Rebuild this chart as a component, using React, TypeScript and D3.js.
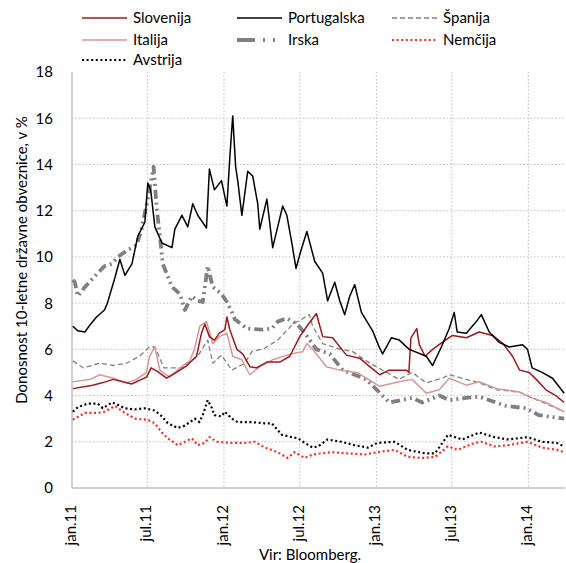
import React from "react";
import * as d3 from "d3";

type Pt = [string, number];

// 10-year government bond yields, %
const slovenija: Pt[] = [
  ["2011-01-03", 4.3], ["2011-02-20", 4.45], ["2011-03-14", 4.55], ["2011-04-10", 4.7],
  ["2011-05-24", 4.5], ["2011-06-29", 4.8], ["2011-07-10", 5.2], ["2011-07-25", 5.05],
  ["2011-08-16", 4.75], ["2011-09-09", 5.0], ["2011-10-04", 5.3], ["2011-10-27", 5.7],
  ["2011-11-08", 6.7], ["2011-11-16", 7.1], ["2011-11-27", 6.55], ["2011-12-09", 6.4],
  ["2011-12-21", 6.7], ["2012-01-03", 6.85], ["2012-01-08", 7.4], ["2012-01-15", 6.85],
  ["2012-02-01", 6.0], ["2012-02-15", 5.8], ["2012-03-03", 5.25], ["2012-03-19", 5.2],
  ["2012-04-13", 5.45], ["2012-05-14", 5.45], ["2012-06-07", 5.7], ["2012-07-01", 6.55],
  ["2012-07-18", 7.0], ["2012-08-10", 7.55], ["2012-08-25", 6.55], ["2012-09-18", 6.5],
  ["2012-10-21", 5.75], ["2012-11-23", 5.6], ["2012-12-16", 5.25], ["2013-01-09", 4.9],
  ["2013-02-01", 5.1], ["2013-03-14", 5.1], ["2013-03-20", 5.0], ["2013-03-25", 6.5],
  ["2013-04-08", 6.9], ["2013-04-14", 6.2], ["2013-04-28", 5.7], ["2013-05-16", 6.0],
  ["2013-06-08", 6.3], ["2013-07-03", 6.6], ["2013-08-05", 6.5], ["2013-09-05", 6.75],
  ["2013-10-07", 6.6], ["2013-11-01", 6.25], ["2013-11-24", 5.7], ["2013-12-11", 5.1],
  ["2014-01-03", 5.0], ["2014-01-20", 4.7], ["2014-02-12", 4.25], ["2014-03-08", 4.0],
  ["2014-03-28", 3.7],
];

const portugalska: Pt[] = [
  ["2011-01-03", 7.0], ["2011-01-15", 6.8], ["2011-02-01", 6.75], ["2011-02-15", 7.1],
  ["2011-03-01", 7.4], ["2011-03-20", 7.7], ["2011-03-27", 8.0], ["2011-04-14", 9.1],
  ["2011-04-26", 9.9], ["2011-05-08", 9.2], ["2011-05-25", 9.7], ["2011-06-08", 10.9],
  ["2011-06-25", 11.5], ["2011-07-02", 13.2], ["2011-07-09", 12.9], ["2011-07-19", 11.3],
  ["2011-08-05", 10.6], ["2011-08-29", 10.4], ["2011-09-05", 11.2], ["2011-09-22", 11.8],
  ["2011-10-06", 11.3], ["2011-10-18", 12.3], ["2011-10-30", 11.8], ["2011-11-20", 11.25],
  ["2011-11-27", 13.8], ["2011-12-09", 12.9], ["2011-12-26", 13.3], ["2012-01-08", 12.2],
  ["2012-01-15", 14.3], ["2012-01-22", 16.1], ["2012-01-29", 13.9], ["2012-02-03", 13.3],
  ["2012-02-13", 11.8], ["2012-02-27", 13.7], ["2012-03-10", 13.5], ["2012-03-22", 12.3],
  ["2012-03-27", 11.2], ["2012-04-13", 12.5], ["2012-04-27", 10.4], ["2012-05-09", 11.3],
  ["2012-05-21", 12.2], ["2012-05-31", 11.8], ["2012-06-12", 10.6], ["2012-06-22", 9.5],
  ["2012-07-01", 10.1], ["2012-07-18", 11.1], ["2012-08-06", 9.8], ["2012-08-25", 9.3],
  ["2012-09-06", 8.1], ["2012-09-23", 8.9], ["2012-10-05", 8.1], ["2012-10-17", 7.5],
  ["2012-10-29", 8.3], ["2012-11-10", 8.8], ["2012-11-26", 7.6], ["2012-12-23", 6.8],
  ["2013-01-09", 6.05], ["2013-01-16", 5.8], ["2013-02-06", 6.5], ["2013-02-25", 6.4],
  ["2013-03-21", 6.0], ["2013-05-01", 5.7], ["2013-05-16", 5.3], ["2013-06-06", 6.1],
  ["2013-06-25", 6.9], ["2013-07-07", 7.6], ["2013-07-14", 6.75], ["2013-08-05", 6.7],
  ["2013-08-29", 7.2], ["2013-09-10", 7.5], ["2013-09-29", 6.75], ["2013-10-23", 6.3],
  ["2013-11-16", 6.1], ["2013-12-18", 6.2], ["2013-12-30", 6.0], ["2014-01-10", 5.2],
  ["2014-02-03", 5.0], ["2014-02-28", 4.75], ["2014-03-15", 4.4], ["2014-03-28", 4.1],
];

const spanija: Pt[] = [
  ["2011-01-03", 5.5], ["2011-01-28", 5.2], ["2011-03-09", 5.4], ["2011-04-10", 5.3],
  ["2011-05-12", 5.4], ["2011-06-12", 5.7], ["2011-07-06", 6.1], ["2011-07-19", 6.1],
  ["2011-08-10", 5.2], ["2011-09-22", 5.2], ["2011-10-30", 5.7], ["2011-11-23", 6.4],
  ["2011-12-05", 5.4], ["2011-12-26", 5.75], ["2012-01-20", 5.1], ["2012-02-20", 5.4],
  ["2012-03-08", 5.9], ["2012-04-08", 6.05], ["2012-05-09", 6.4], ["2012-06-12", 7.05],
  ["2012-07-24", 7.5], ["2012-08-01", 7.0], ["2012-08-25", 6.25], ["2012-09-27", 6.05],
  ["2012-11-05", 5.9], ["2012-12-16", 5.4], ["2013-01-26", 5.0], ["2013-02-24", 4.7],
  ["2013-03-28", 5.0], ["2013-05-01", 4.55], ["2013-06-08", 4.75], ["2013-06-25", 4.9],
  ["2013-08-05", 4.7], ["2013-09-05", 4.55], ["2013-10-17", 4.25], ["2013-12-11", 4.15],
  ["2014-01-10", 3.9], ["2014-02-12", 3.65], ["2014-03-28", 3.3],
];

const italija: Pt[] = [
  ["2011-01-03", 4.6], ["2011-02-14", 4.7], ["2011-03-09", 4.9], ["2011-04-10", 4.75],
  ["2011-05-12", 4.55], ["2011-06-05", 4.7], ["2011-06-29", 5.0], ["2011-07-06", 5.7],
  ["2011-07-19", 6.1], ["2011-07-31", 5.1], ["2011-08-23", 4.8], ["2011-09-17", 5.2],
  ["2011-10-11", 5.5], ["2011-10-22", 6.0], ["2011-11-04", 7.0], ["2011-11-20", 7.2],
  ["2011-12-05", 6.25], ["2011-12-21", 6.55], ["2012-01-08", 6.7], ["2012-01-22", 5.7],
  ["2012-02-13", 5.55], ["2012-03-03", 4.9], ["2012-03-27", 5.25], ["2012-04-27", 5.55],
  ["2012-05-31", 5.75], ["2012-06-24", 5.85], ["2012-07-08", 5.9], ["2012-07-18", 6.25],
  ["2012-08-01", 6.0], ["2012-09-03", 5.25], ["2012-10-05", 5.1], ["2012-11-15", 5.0],
  ["2013-01-09", 4.4], ["2013-02-24", 4.6], ["2013-03-28", 4.7], ["2013-05-01", 4.1],
  ["2013-06-01", 4.25], ["2013-06-25", 4.75], ["2013-08-05", 4.45], ["2013-09-05", 4.6],
  ["2013-10-17", 4.3], ["2013-12-11", 4.15], ["2014-01-10", 3.9], ["2014-02-12", 3.7],
  ["2014-03-28", 3.3],
];

const irska: Pt[] = [
  ["2011-01-03", 9.0], ["2011-01-08", 8.9], ["2011-01-15", 8.3], ["2011-02-01", 8.7],
  ["2011-03-04", 9.3], ["2011-03-20", 9.6], ["2011-04-07", 9.7], ["2011-04-21", 10.0],
  ["2011-05-15", 10.3], ["2011-06-05", 10.5], ["2011-06-17", 11.2], ["2011-07-02", 12.5],
  ["2011-07-16", 13.9], ["2011-07-23", 12.2], ["2011-07-31", 10.9], ["2011-08-07", 9.7],
  ["2011-08-29", 8.7], ["2011-09-17", 8.4], ["2011-09-29", 7.7], ["2011-10-16", 8.3],
  ["2011-10-30", 8.1], ["2011-11-11", 8.05], ["2011-11-23", 9.6], ["2011-12-05", 8.7],
  ["2011-12-26", 8.4], ["2012-01-08", 8.05], ["2012-01-20", 7.6], ["2012-01-27", 7.3],
  ["2012-02-25", 6.9], ["2012-04-03", 6.85], ["2012-04-25", 6.9], ["2012-05-09", 7.2],
  ["2012-05-31", 7.35], ["2012-06-24", 7.1], ["2012-07-13", 6.7], ["2012-08-10", 6.0],
  ["2012-09-11", 5.8], ["2012-10-12", 5.1], ["2012-12-08", 4.7], ["2013-02-01", 3.7],
  ["2013-03-28", 3.9], ["2013-04-21", 3.7], ["2013-06-01", 4.0], ["2013-06-25", 3.8],
  ["2013-08-05", 3.9], ["2013-09-05", 3.95], ["2013-11-09", 3.55], ["2013-12-27", 3.45],
  ["2014-01-26", 3.15], ["2014-03-08", 3.05], ["2014-03-28", 3.0],
];

const nemcija: Pt[] = [
  ["2011-01-03", 2.95], ["2011-02-01", 3.25], ["2011-03-04", 3.25], ["2011-03-20", 3.3],
  ["2011-04-14", 3.55], ["2011-05-08", 3.25], ["2011-06-01", 3.0], ["2011-07-02", 2.95],
  ["2011-07-19", 2.8], ["2011-08-05", 2.4], ["2011-08-19", 2.15], ["2011-09-12", 1.85],
  ["2011-09-29", 2.0], ["2011-10-16", 2.15], ["2011-10-30", 1.85], ["2011-11-16", 1.95],
  ["2011-11-27", 2.2], ["2011-12-16", 2.0], ["2012-01-20", 1.95], ["2012-02-20", 1.95],
  ["2012-03-15", 2.0], ["2012-04-08", 1.75], ["2012-05-09", 1.55], ["2012-06-02", 1.3],
  ["2012-06-19", 1.55], ["2012-07-13", 1.3], ["2012-08-01", 1.45], ["2012-09-16", 1.55],
  ["2012-10-24", 1.5], ["2012-12-05", 1.45], ["2013-01-03", 1.55], ["2013-02-14", 1.65],
  ["2013-03-17", 1.35], ["2013-04-21", 1.3], ["2013-05-22", 1.35], ["2013-06-22", 1.8],
  ["2013-07-15", 1.65], ["2013-08-24", 1.95], ["2013-09-10", 2.0], ["2013-10-12", 1.8],
  ["2013-11-12", 1.85], ["2013-12-30", 2.0], ["2014-02-02", 1.75], ["2014-03-10", 1.65],
  ["2014-03-28", 1.55],
];

const avstrija: Pt[] = [
  ["2011-01-03", 3.3], ["2011-01-15", 3.5], ["2011-02-08", 3.65], ["2011-03-04", 3.65],
  ["2011-03-16", 3.45], ["2011-04-07", 3.7], ["2011-04-21", 3.6], ["2011-05-08", 3.45],
  ["2011-06-01", 3.4], ["2011-06-25", 3.45], ["2011-07-19", 3.35], ["2011-08-05", 3.1],
  ["2011-08-19", 2.8], ["2011-09-12", 2.6], ["2011-09-29", 2.7], ["2011-10-23", 3.0],
  ["2011-11-03", 2.85], ["2011-11-11", 3.15], ["2011-11-23", 3.8], ["2011-12-02", 3.5],
  ["2011-12-09", 3.15], ["2011-12-26", 3.1], ["2012-01-03", 3.3], ["2012-01-20", 3.0],
  ["2012-02-03", 2.85], ["2012-03-08", 2.85], ["2012-04-08", 2.8], ["2012-04-25", 2.8],
  ["2012-05-19", 2.3], ["2012-06-12", 2.2], ["2012-06-27", 2.15], ["2012-07-13", 1.95],
  ["2012-08-01", 1.75], ["2012-08-14", 1.8], ["2012-09-06", 2.1], ["2012-10-09", 2.0],
  ["2012-11-10", 1.85], ["2012-12-12", 1.75], ["2013-01-03", 1.95], ["2013-02-14", 2.0],
  ["2013-03-17", 1.65], ["2013-04-28", 1.5], ["2013-05-22", 1.5], ["2013-06-22", 2.3],
  ["2013-07-26", 2.1], ["2013-09-05", 2.4], ["2013-10-12", 2.2], ["2013-11-12", 2.1],
  ["2013-12-30", 2.2], ["2014-02-02", 2.0], ["2014-03-10", 1.95], ["2014-03-28", 1.8],
];

const yTicks = [0, 2, 4, 6, 8, 10, 12, 14, 16, 18];
const xTicks = ["2011-01-01", "2011-07-01", "2012-01-01", "2012-07-01", "2013-01-01", "2013-07-01", "2014-01-01"];
const xTickLabels = ["jan.11", "jul.11", "jan.12", "jul.12", "jan.13", "jul.13", "jan.14"];

const FONT = "Lato, 'Open Sans', sans-serif";

const parse = d3.timeParse("%Y-%m-%d");

interface Series {
  name: string;
  data: Pt[];
  color: string;
  width: number;
  dash?: string;
  legendDash?: string;
}

const series: Series[] = [
  { name: "Slovenija", data: slovenija, color: "#a3171c", width: 1.5 },
  { name: "Portugalska", data: portugalska, color: "#000000", width: 1.5 },
  { name: "Španija", data: spanija, color: "#808080", width: 1.3, dash: "5,3" },
  { name: "Italija", data: italija, color: "#d99694", width: 1.5 },
  { name: "Irska", data: irska, color: "#808080", width: 3.8, dash: "9,4,2,4,2,4", legendDash: "18,8,2,8,2,8" },
  { name: "Nemčija", data: nemcija, color: "#ff2a1a", width: 2.2, dash: "2,2.6" },
  { name: "Avstrija", data: avstrija, color: "#000000", width: 2.2, dash: "2,2.6" },
];

const drawOrder = ["Irska", "Španija", "Italija", "Slovenija", "Portugalska", "Avstrija", "Nemčija"];

export default function App() {
  const W = 566;
  const H = 563;
  const left = 72;
  const right = 565;
  const top = 72;
  const bottom = 488;

  const x = d3
    .scaleTime()
    .domain([parse("2011-01-01")!, parse("2014-03-30")!])
    .range([left, right]);
  const y = d3.scaleLinear().domain([0, 18]).range([bottom, top]);

  const line = d3
    .line<Pt>()
    .x((d) => x(parse(d[0])!))
    .y((d) => y(d[1]));

  const legendCols = [82, 237, 392];
  const legendRows = [18, 40, 60];

  return (
    <svg
      width={W}
      height={H}
      style={{ position: "absolute", left: 0, top: 0, background: "#fff" }}
      fontFamily={FONT}
    >
      {/* grid */}
      {yTicks
        .filter((t) => t > 0 && t < 18)
        .map((t) => (
          <line key={"gy" + t} x1={left} x2={right} y1={y(t)} y2={y(t)} stroke="#c0c0c0" strokeWidth={1} strokeDasharray="1.5,2" />
        ))}
      {xTicks.slice(1).map((t) => (
        <line key={"gx" + t} x1={x(parse(t)!)} x2={x(parse(t)!)} y1={top} y2={bottom} stroke="#c0c0c0" strokeWidth={1} strokeDasharray="1.5,2" />
      ))}

      {/* axes */}
      <line x1={left} x2={left} y1={top} y2={bottom} stroke="#bfbfbf" strokeWidth={1.5} />
      <line x1={left} x2={right} y1={bottom} y2={bottom} stroke="#bfbfbf" strokeWidth={1.5} />

      {yTicks.map((t) => (
        <text key={"yt" + t} x={53} y={y(t)} dy="0.36em" textAnchor="end" fontSize={15} fill="#000">
          {t}
        </text>
      ))}

      {xTicks.map((t, i) => {
        const px = x(parse(t)!);
        return (
          <text
            key={"xt" + t}
            transform={`translate(${px + 4},505) rotate(-90)`}
            textAnchor="end"
            fontSize={15}
            fill="#000"
          >
            {xTickLabels[i]}
          </text>
        );
      })}

      <text
        transform={`translate(27,${(top + bottom) / 2 - 20}) rotate(-90)`}
        textAnchor="middle"
        fontSize={15}
        fill="#000"
      >
        Donosnost 10-letne državne obveznice, v %
      </text>

      <text x={310} y={560} textAnchor="middle" fontSize={15} fill="#000">
        Vir: Bloomberg.
      </text>

      {/* series */}
      {drawOrder.map((n) => {
        const s = series.find((d) => d.name === n)!;
        return (
          <path
            key={s.name}
            d={line(s.data) || ""}
            fill="none"
            stroke={s.color}
            strokeWidth={s.width}
            strokeDasharray={s.dash}
            strokeLinejoin="round"
          />
        );
      })}

      {/* legend */}
      {series.map((s, i) => {
        const col = i % 3;
        const row = Math.floor(i / 3);
        const lx = legendCols[col];
        const ly = legendRows[row];
        return (
          <g key={"lg" + s.name}>
            <line
              x1={lx}
              x2={lx + 45}
              y1={ly}
              y2={ly}
              stroke={s.color}
              strokeWidth={s.width}
              strokeDasharray={s.legendDash || s.dash}
            />
            <text x={lx + 51} y={ly} dy="0.35em" fontSize={15} fill="#000">
              {s.name}
            </text>
          </g>
        );
      })}
    </svg>
  );
}
